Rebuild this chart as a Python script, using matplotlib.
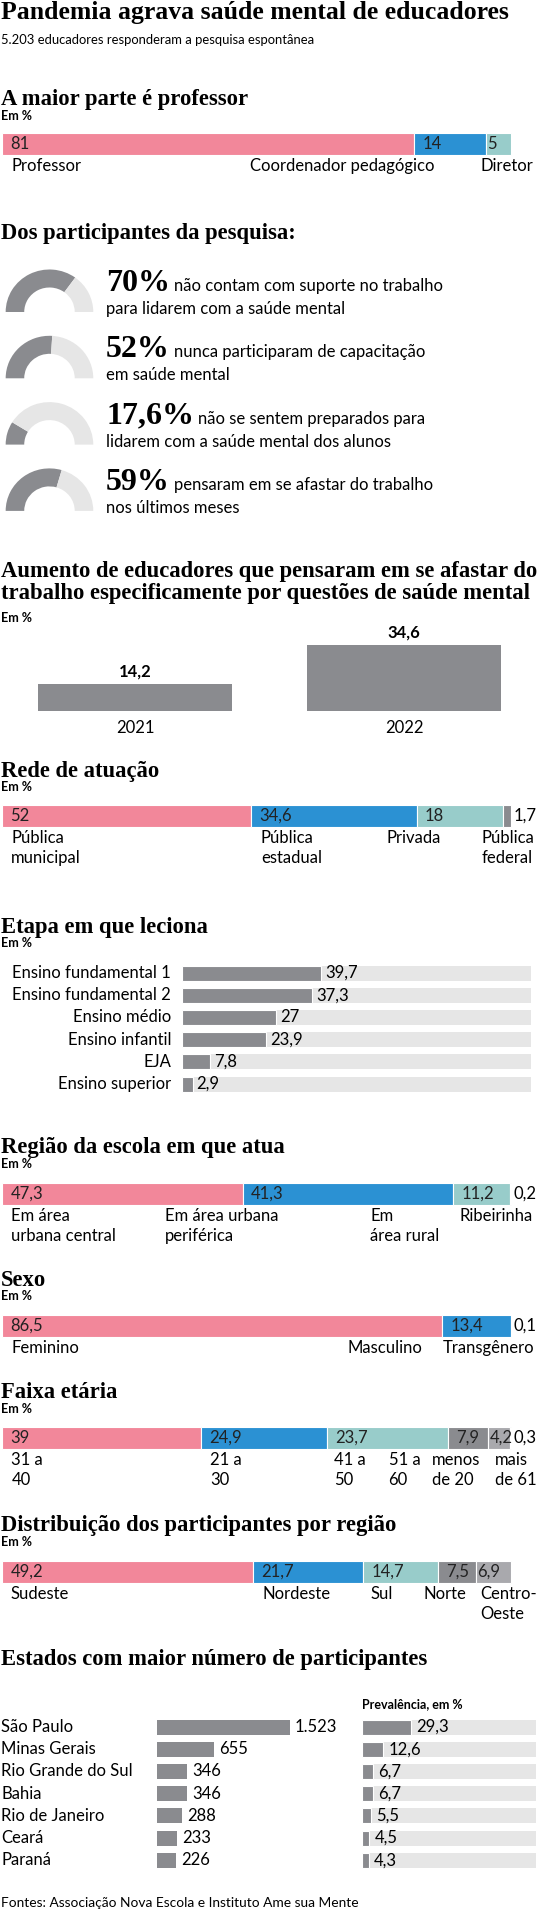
import matplotlib
matplotlib.use("Agg")
import matplotlib.pyplot as plt
from matplotlib.patches import Wedge

# ---- data ----
cargo_vals = [81, 14, 5]
cargo_labels = ["Professor", "Coordenador pedagógico", "Diretor"]

gauge_vals = [70, 52, 17.6, 59]
gauge_big = ["70%", "52%", "17,6%", "59%"]
gauge_line1 = ["não contam com suporte no trabalho", "nunca participaram de capacitação",
               "não se sentem preparados para", "pensaram em se afastar do trabalho"]
gauge_line2 = ["para lidarem com a saúde mental", "em saúde mental",
               "lidarem com a saúde mental dos alunos", "nos últimos meses"]

anos = ["2021", "2022"]
afastar_vals = [14.2, 34.6]

rede_vals = [52, 34.6, 18, 1.7]
rede_labels = ["Pública\nmunicipal", "Pública\nestadual", "Privada", "Pública\nfederal"]

etapa_labels = ["Ensino fundamental 1", "Ensino fundamental 2", "Ensino médio",
                "Ensino infantil", "EJA", "Ensino superior"]
etapa_vals = [39.7, 37.3, 27, 23.9, 7.8, 2.9]

regiao_vals = [47.3, 41.3, 11.2, 0.2]
regiao_labels = ["Em área\nurbana central", "Em área urbana\nperiférica", "Em\nárea rural", "Ribeirinha"]

sexo_vals = [86.5, 13.4, 0.1]
sexo_labels = ["Feminino", "Masculino", "Transgênero"]

faixa_vals = [39, 24.9, 23.7, 7.9, 4.2, 0.3]
faixa_labels = ["31 a\n40", "21 a\n30", "41 a\n50", "51 a\n60", "menos\nde 20", "mais\nde 61"]

dist_vals = [49.2, 21.7, 14.7, 7.5, 6.9]
dist_labels = ["Sudeste", "Nordeste", "Sul", "Norte", "Centro-\nOeste"]

estados = ["São Paulo", "Minas Gerais", "Rio Grande do Sul", "Bahia",
           "Rio de Janeiro", "Ceará", "Paraná"]
estados_n = [1523, 655, 346, 346, 288, 233, 226]
estados_prev = [29.3, 12.6, 6.7, 6.7, 5.5, 4.5, 4.3]

# ---- style ----
PINK, BLUE, TEAL = "#f2879a", "#2b91d3", "#98ccca"
GRAY, GRAY2, LIGHT = "#8a8b8f", "#a9a9ad", "#e6e6e6"
SEG_COLORS = [PINK, BLUE, TEAL, GRAY, GRAY2]
SERIF = "Liberation Serif"
SANS = "Lato"
BODY = 12
RIGHT = 521


def fmt(v):
    return f"{v:g}".replace(".", ",")


fig = plt.figure(figsize=(5.38, 19.2), dpi=100)
ax = fig.add_axes([0, 0, 1, 1])
ax.set_xlim(0, 522)
ax.set_ylim(1920, 0)
ax.axis("off")
renderer = fig.canvas.get_renderer()


def right_edge(t):
    bb = t.get_window_extent(renderer)
    return ax.transData.inverted().transform((bb.x1, bb.y1))[0]


def fit(t):
    # keep a text inside the right edge
    if right_edge(t) > RIGHT:
        t.set_x(RIGHT)
        t.set_ha("right")


def header(y, text, size=16.3):
    ax.text(1, y, text, fontsize=size, family=SERIF, weight="bold", va="center")


def em(y):
    ax.text(1, y, "Em %", fontsize=9, family=SANS, weight="bold", va="center")


def stacked(y, vals, labels, label_x, colors=SEG_COLORS, width=494, x0=2, h=22):
    total = sum(vals)
    left = x0
    for i, v in enumerate(vals):
        w = v / total * width
        c = colors[i] if i < len(colors) else GRAY
        ax.barh(y, w, left=left, height=h, color=c, edgecolor="white", linewidth=0.8)
        if v < 2:
            fit(ax.text(x0 + width + 3, y, fmt(v), fontsize=BODY, family=SANS, va="center"))
        else:
            pad = 8 if w > 35 else 1
            ax.text(left + pad, y, fmt(v), fontsize=BODY, family=SANS, va="center", color="#222")
        left += w
    for lx, lab in zip(label_x, labels):
        fit(ax.text(lx, y + h / 2 + 3, lab, fontsize=BODY, family=SANS, va="top",
                    linespacing=1.3))


# title
ax.text(1, 13, "Pandemia agrava saúde mental de educadores", fontsize=18.5,
        family=SERIF, weight="bold", va="center")
ax.text(1, 40, "5.203 educadores responderam a pesquisa espontânea", fontsize=9.4,
        family=SANS, va="center")

# cargo
header(100, "A maior parte é professor")
em(116)
stacked(144, cargo_vals, cargo_labels, [11, 243, 466])

# gauges
header(233, "Dos participantes da pesquisa:")
for i, v in enumerate(gauge_vals):
    base = 312 + i * 66.3
    split = 180 + 180 * v / 100
    ax.add_patch(Wedge((48, base), 42.5, 180, split, width=18, color=GRAY, lw=0))
    ax.add_patch(Wedge((48, base), 42.5, split, 360, width=18, color=LIGHT, lw=0))
    t = ax.text(103, base - 21, gauge_big[i], fontsize=23, family=SERIF,
                weight="bold", va="baseline")
    ax.text(right_edge(t) + 4, base - 21, gauge_line1[i], fontsize=BODY, family=SANS,
            va="baseline")
    ax.text(103, base + 2, gauge_line2[i], fontsize=BODY, family=SANS, va="baseline")

# afastar
header(572, "Aumento de educadores que pensaram em se afastar do")
header(594, "trabalho especificamente por questões de saúde mental")
em(618)
bar_x = [131, 392]
scale = 1.91
for x, v, a in zip(bar_x, afastar_vals, anos):
    ax.bar(x, -v * scale, bottom=711, width=188, color=GRAY)
    ax.text(x, 711 - v * scale - 12, fmt(v), fontsize=BODY, family=SANS,
            weight="bold", ha="center", va="center")
    ax.text(x, 728, a, fontsize=BODY, family=SANS, ha="center", va="center")

# rede
header(771, "Rede de atuação")
em(787)
stacked(816, rede_vals, rede_labels, [11, 253, 375, 467], colors=[PINK, BLUE, TEAL, GRAY])

# etapa
header(927, "Etapa em que leciona")
em(943)
for i, (lab, v) in enumerate(zip(etapa_labels, etapa_vals)):
    y = 973 + i * 22.2
    ax.barh(y, 338, left=177, height=15, color=LIGHT)
    ax.barh(y, v * 3.38, left=177, height=15, color=GRAY, edgecolor="white", linewidth=0.8)
    ax.text(166, y, lab, fontsize=BODY, family=SANS, ha="right", va="center")
    ax.text(177 + v * 3.38 + 4, y, fmt(v), fontsize=BODY, family=SANS, va="center")

# regiao
header(1148, "Região da escola em que atua")
em(1164)
stacked(1194, regiao_vals, regiao_labels, [11, 160, 359, 446])

# sexo
header(1280, "Sexo")
em(1296)
stacked(1326, sexo_vals, sexo_labels, [11, 337, 430])

# faixa
header(1392, "Faixa etária")
em(1409)
stacked(1438, faixa_vals, faixa_labels, [11, 204, 324, 377, 419, 480])

# distribuicao
header(1525, "Distribuição dos participantes por região")
em(1542)
stacked(1572, dist_vals, dist_labels, [10, 255, 359, 411, 466])

# estados
header(1659, "Estados com maior número de participantes")
ax.text(351, 1704, "Prevalência, em %", fontsize=9, family=SANS, weight="bold", va="center")
for i, (s, n, p) in enumerate(zip(estados, estados_n, estados_prev)):
    y = 1727 + i * 22.2
    w = n / 1523 * 129
    ax.text(1, y, s, fontsize=BODY, family=SANS, va="center")
    ax.barh(y, w, left=152, height=15, color=GRAY)
    ax.text(152 + w + 5, y, f"{n:,}".replace(",", "."), fontsize=BODY, family=SANS, va="center")
    ax.barh(y, 169, left=351, height=15, color=LIGHT)
    ax.barh(y, p * 1.64, left=351, height=15, color=GRAY, edgecolor="white", linewidth=0.8)
    ax.text(351 + p * 1.64 + 5, y, fmt(p), fontsize=BODY, family=SANS, va="center")

ax.text(1, 1903, "Fontes: Associação Nova Escola e Instituto Ame sua Mente", fontsize=9.9,
        family=SANS, va="center")

fig.savefig("out.png", dpi=100)
